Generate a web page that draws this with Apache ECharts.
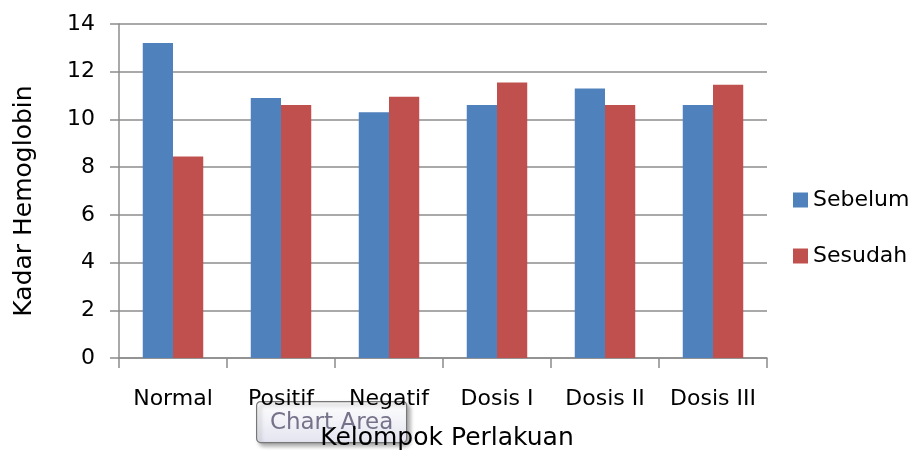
<!DOCTYPE html>
<html>
<head>
<meta charset="utf-8">
<script src="https://cdn.jsdelivr.net/npm/echarts@6/dist/echarts.min.js"></script>
<style>
  html, body { margin: 0; padding: 0; background: #fff; }
  #chart { width: 920px; height: 450px; }
</style>
</head>
<body>
<div id="chart"></div>
<script>
// kelompok perlakuan
let categories = ['Normal', 'Positif', 'Negatif', 'Dosis I', 'Dosis II', 'Dosis III'];
// kadar hemoglobin
let sebelum = [13.2, 10.9, 10.3, 10.6, 11.3, 10.6];
let sesudah = [8.45, 10.6, 10.95, 11.55, 10.6, 11.45];
let yTicks = [0, 2, 4, 6, 8, 10, 12, 14];

let font = 'DejaVu Sans';
let gridColor = '#8c8c8c';

let myChart = echarts.init(document.getElementById('chart'));

let option = {
    animation: false,
    textStyle: { fontFamily: font },
    grid: {
        left: 119,
        right: 153,
        top: 24,
        bottom: 92,
        containLabel: false,
        outerBoundsMode: 'none'
    },
    legend: {
        orient: 'vertical',
        left: 793,
        top: 189,
        padding: 0,
        itemWidth: 15,
        itemHeight: 15,
        itemGap: 34,
        icon: 'rect',
        data: ['Sebelum', 'Sesudah'],
        textStyle: { fontSize: 22, color: '#000', fontFamily: font }
    },
    xAxis: {
        type: 'category',
        data: categories,
        name: 'Kelompok Perlakuan',
        nameLocation: 'middle',
        nameGap: 68,
        nameTextStyle: { fontSize: 25, color: '#000', fontFamily: font, padding: [0, 0, 0, 8] },
        axisLine: { lineStyle: { color: gridColor, width: 1.5 } },
        axisTick: { show: true, length: 10, lineStyle: { color: gridColor, width: 1.5 } },
        axisLabel: { interval: 0, fontSize: 22, color: '#000', margin: 30, fontFamily: font }
    },
    yAxis: {
        type: 'value',
        min: yTicks[0],
        max: yTicks[yTicks.length - 1],
        interval: 2,
        name: 'Kadar Hemoglobin',
        nameLocation: 'middle',
        nameGap: 82,
        nameTextStyle: { fontSize: 25, color: '#000', fontFamily: font, padding: [0, 20, 0, 0] },
        axisLine: { show: true, lineStyle: { color: gridColor, width: 1.5 } },
        axisTick: { show: true, length: 9, lineStyle: { color: gridColor, width: 1.5 } },
        axisLabel: { fontSize: 22, color: '#000', margin: 24, fontFamily: font },
        splitLine: { lineStyle: { color: gridColor, width: 1.5 } }
    },
    series: [
        {
            name: 'Sebelum',
            type: 'bar',
            data: sebelum,
            barGap: '0%',
            barCategoryGap: '44%',
            itemStyle: { color: '#4F81BD' }
        },
        {
            name: 'Sesudah',
            type: 'bar',
            data: sesudah,
            barGap: '0%',
            barCategoryGap: '44%',
            itemStyle: { color: '#C0504D' }
        }
    ],
    graphic: [
        {
            type: 'group',
            left: 256,
            top: 401,
            z: 100,
            children: [
                {
                    type: 'rect',
                    shape: { x: 0, y: 0, width: 150, height: 41, r: 4 },
                    style: {
                        fill: new echarts.graphic.LinearGradient(0, 0, 0, 1, [
                            { offset: 0, color: '#ffffff' },
                            { offset: 1, color: '#e3e4ef' }
                        ]),
                        stroke: '#777',
                        lineWidth: 1.2,
                        shadowBlur: 4,
                        shadowOffsetX: 3,
                        shadowOffsetY: 3,
                        shadowColor: 'rgba(0,0,0,0.35)'
                    }
                },
                {
                    type: 'text',
                    x: 75,
                    y: 21,
                    style: {
                        text: 'Chart Area',
                        fontSize: 23,
                        fontFamily: font,
                        fill: '#76728a',
                        align: 'center',
                        verticalAlign: 'middle'
                    }
                }
            ]
        }
    ]
};

myChart.setOption(option);
</script>
</body>
</html>
